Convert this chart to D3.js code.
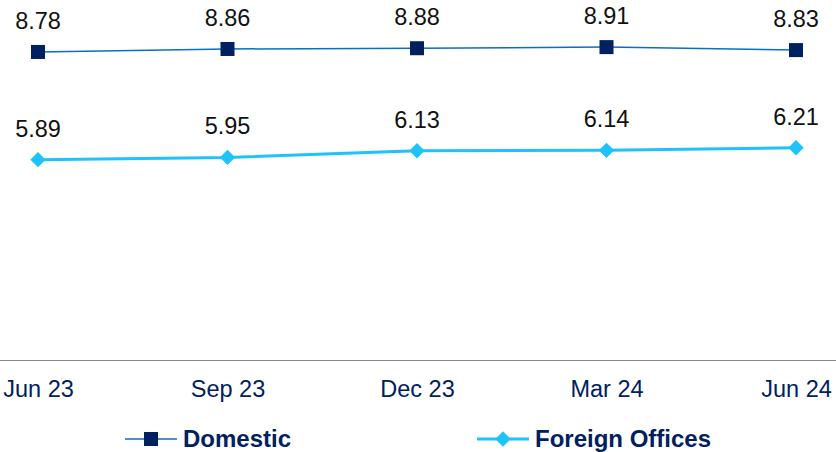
<!DOCTYPE html>
<html>
<head>
<meta charset="utf-8">
<script src="https://cdn.jsdelivr.net/npm/d3@7"></script>
<style>
    html, body { margin: 0; padding: 0; background: #ffffff; }
    svg { display: block; font-family: "Liberation Sans", Arial, sans-serif; }
</style>
</head>
<body>
<div id="chart"></div>
<script>
// Données
const periods = ['Jun 23', 'Sep 23', 'Dec 23', 'Mar 24', 'Jun 24'];
const domesticValues = [8.78, 8.86, 8.88, 8.91, 8.83];
const foreignValues = [5.89, 5.95, 6.13, 6.14, 6.21];
const seriesNames = ['Domestic', 'Foreign Offices'];

const width = 836;
const height = 452;

const navy = '#002060';
const domesticLine = '#0a6fc2';
const cyan = '#1fc3fb';

const svg = d3.select('#chart')
    .append('svg')
    .attr('width', width)
    .attr('height', height);

const x = d3.scalePoint()
    .domain(periods)
    .range([38, 796]);

const y = d3.scaleLinear()
    .domain([0.5, 10])
    .range([360.5, 6.5]);

// axe horizontal
const xAxis = svg.append('g')
    .attr('transform', 'translate(0,360.5)')
    .call(d3.axisBottom(x).tickSize(0).tickPadding(0));

xAxis.select('.domain').remove();
xAxis.append('line')
    .attr('x1', 0)
    .attr('x2', width)
    .attr('stroke', '#888888')
    .attr('stroke-width', 1.2);

xAxis.selectAll('.tick text')
    .attr('y', 36)
    .attr('dy', 0)
    .attr('fill', navy)
    .attr('font-size', '23.5px')
    .attr('font-family', '"Liberation Sans", Arial, sans-serif');

const line = d3.line()
    .x((_, index) => x(periods[index]))
    .y((value) => y(value));

// Domestic
svg.append('path')
    .datum(domesticValues)
    .attr('fill', 'none')
    .attr('stroke', domesticLine)
    .attr('stroke-width', 1.5)
    .attr('d', line);

svg.selectAll('.dom-marker')
    .data(domesticValues)
    .enter()
    .append('rect')
    .attr('class', 'dom-marker')
    .attr('x', (_, index) => x(periods[index]) - 7)
    .attr('y', (value) => y(value) - 7)
    .attr('width', 14)
    .attr('height', 14)
    .attr('fill', navy);

// Foreign Offices
svg.append('path')
    .datum(foreignValues)
    .attr('fill', 'none')
    .attr('stroke', cyan)
    .attr('stroke-width', 3)
    .attr('d', line);

const diamond = d3.symbol().type(d3.symbolDiamond2).size(150);

svg.selectAll('.for-marker')
    .data(foreignValues)
    .enter()
    .append('path')
    .attr('class', 'for-marker')
    .attr('transform', (value, index) => `translate(${x(periods[index])},${y(value)})`)
    .attr('d', diamond)
    .attr('fill', cyan);

// étiquettes de valeurs
[domesticValues, foreignValues].forEach((values) => {
    svg.selectAll(null)
        .data(values)
        .enter()
        .append('text')
        .attr('x', (_, index) => x(periods[index]))
        .attr('y', (value) => y(value) - 23)
        .attr('text-anchor', 'middle')
        .attr('font-size', '23.5px')
        .attr('fill', '#111111')
        .text((value) => value.toFixed(2));
});

// légende
const legendY = 439;
const legend = svg.append('g');

legend.append('line')
    .attr('x1', 125).attr('x2', 177)
    .attr('y1', legendY).attr('y2', legendY)
    .attr('stroke', domesticLine)
    .attr('stroke-width', 1.5);
legend.append('rect')
    .attr('x', 151 - 7).attr('y', legendY - 7)
    .attr('width', 14).attr('height', 14)
    .attr('fill', navy);
legend.append('text')
    .attr('x', 183).attr('y', legendY + 8)
    .attr('font-size', '24px')
    .attr('font-weight', 'bold')
    .attr('fill', navy)
    .text(seriesNames[0]);

legend.append('line')
    .attr('x1', 477).attr('x2', 529)
    .attr('y1', legendY).attr('y2', legendY)
    .attr('stroke', cyan)
    .attr('stroke-width', 3);
legend.append('path')
    .attr('transform', `translate(503,${legendY})`)
    .attr('d', diamond)
    .attr('fill', cyan);
legend.append('text')
    .attr('x', 535).attr('y', legendY + 8)
    .attr('font-size', '24px')
    .attr('font-weight', 'bold')
    .attr('fill', navy)
    .text(seriesNames[1]);
</script>
</body>
</html>
